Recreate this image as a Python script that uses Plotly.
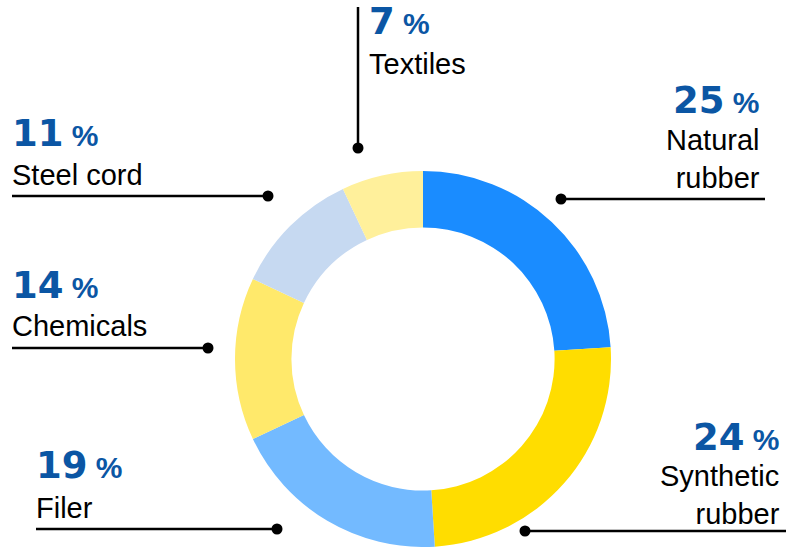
import plotly.graph_objects as go

W, H = 786, 547

# slices, clockwise from 12 o'clock (sizes as drawn in the ring)
labels = ["Natural rubber", "Synthetic rubber", "Filer", "Chemicals", "Steel cord", "Textiles"]
shares = [24, 25, 19, 14, 11, 7]
pct_text = ["25", "24", "19", "14", "11", "7"]
colors = ["#1A8CFF", "#FFDD00", "#73BAFF", "#FFE96B", "#C6D9F1", "#FFF09B"]

BLUE = "#0B56A4"

def px(x):
    return x / W

def py(y):
    return 1 - y / H

cx, cy, r = 423, 359, 188

fig = go.Figure()
fig.add_trace(go.Pie(
    labels=labels, values=shares, sort=False, direction="clockwise", rotation=0,
    hole=0.70, textinfo="none", hoverinfo="label+percent",
    marker=dict(colors=colors, line=dict(width=0)),
    domain=dict(x=[px(cx - r), px(cx + r)], y=[py(cy + r), py(cy - r)]),
    showlegend=False,
))

def pct_label(i):
    return ("<span style='font-family:DejaVu Sans;font-weight:bold;font-size:37px'>" + pct_text[i] +
            "</span><span style='font-family:Liberation Sans;font-weight:bold;font-size:30px'> %</span>")

# (index, x, y of pct, y of name, anchor, name text)
placements = [
    (0, 762, 100, 159, "right", "Natural<br>rubber"),
    (1, 782, 437, 495, "right", "Synthetic<br>rubber"),
    (2, 34, 465, 508, "left", "Filer"),
    (3, 10, 285, 326, "left", "Chemicals"),
    (4, 10, 133, 175, "left", "Steel cord"),
    (5, 367, 22, 64, "left", "Textiles"),
]

for i, x, yp, yn, anchor, name in placements:
    fig.add_annotation(x=px(x), y=py(yp), xref="paper", yref="paper", text=pct_label(i),
                       showarrow=False, xanchor=anchor, yanchor="middle",
                       font=dict(color=BLUE, size=37, family="DejaVu Sans"))
    fig.add_annotation(x=px(x), y=py(yn), xref="paper", yref="paper", text=name,
                       showarrow=False, xanchor=anchor, yanchor="middle", align=anchor,
                       font=dict(color="#000000", size=29, family="Liberation Sans"))

# leader lines: (x0, y0, x1, y1) with dot at the first point
leaders = [
    (561, 199, 765, 199),
    (525, 531, 786, 531),
    (277, 529, 36, 529),
    (208, 348, 12, 348),
    (268, 196, 12, 196),
    (358, 148, 358, 7),
]
for x0, y0, x1, y1 in leaders:
    fig.add_shape(type="line", xref="paper", yref="paper",
                  x0=px(x0), y0=py(y0), x1=px(x1), y1=py(y1),
                  line=dict(color="#000000", width=2.5))
    fig.add_shape(type="circle", xref="paper", yref="paper",
                  x0=px(x0 - 5.5), y0=py(y0 + 5.5), x1=px(x0 + 5.5), y1=py(y0 - 5.5),
                  fillcolor="#000000", line=dict(width=0))

fig.update_layout(width=W, height=H, margin=dict(l=0, r=0, t=0, b=0),
                  paper_bgcolor="white", plot_bgcolor="white")
fig.write_html("out.html", config={"displayModeBar": False},
               post_script="document.body.style.margin='0';")
